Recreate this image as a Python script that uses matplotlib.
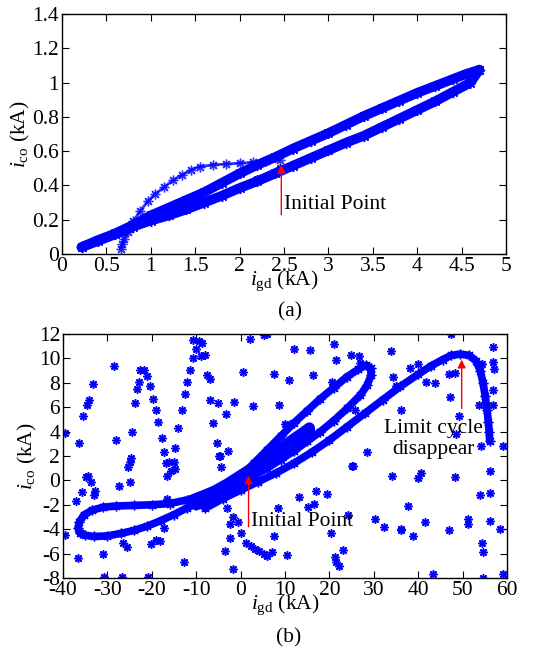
import matplotlib
matplotlib.use("Agg")
import matplotlib.pyplot as plt
from matplotlib.ticker import FuncFormatter

plt.rcParams['font.family'] = ['Liberation Serif', 'DejaVu Serif']
plt.rcParams['mathtext.fontset'] = 'custom'
plt.rcParams['mathtext.rm'] = 'Liberation Serif'
plt.rcParams['mathtext.it'] = 'Liberation Serif:italic'

# ---------------- (a) data ----------------
a_upper_x = [0.22, 0.4, 0.6, 0.8, 1.0, 1.2, 1.4, 1.6, 1.8, 2.0, 2.2, 2.4, 2.6, 2.8, 3.0, 3.2,
             3.4, 3.6, 3.8, 4.0, 4.2, 4.4, 4.55, 4.7]
a_upper_y = [0.04, 0.08, 0.12, 0.17, 0.225, 0.27, 0.315, 0.36, 0.415, 0.47, 0.52, 0.565, 0.615,
             0.66, 0.705, 0.755, 0.805, 0.85, 0.895, 0.94, 0.98, 1.02, 1.05, 1.075]
a_lower_x = [4.7, 4.6, 4.4, 4.2, 4.0, 3.8, 3.6, 3.4, 3.2, 3.0, 2.8, 2.6, 2.4, 2.2, 2.0, 1.8,
             1.6, 1.4, 1.2, 1.0, 0.8, 0.6, 0.4, 0.22]
a_lower_y = [1.075, 1.0, 0.945, 0.89, 0.84, 0.79, 0.74, 0.69, 0.65, 0.605, 0.56, 0.515, 0.47,
             0.425, 0.385, 0.34, 0.30, 0.26, 0.225, 0.195, 0.16, 0.115, 0.075, 0.04]
a_mid_x = [0.7, 1.0, 1.3, 1.6, 1.9, 2.2, 2.45]
a_mid_y = [0.13, 0.2, 0.26, 0.31, 0.37, 0.44, 0.5]
a_trans_x = [0.66, 0.68, 0.70, 0.74, 0.80, 0.88, 0.97, 1.05, 1.15, 1.25, 1.35, 1.45, 1.55,
             1.7, 1.85, 2.0, 2.15, 2.3, 2.45]
a_trans_y = [0.03, 0.06, 0.09, 0.13, 0.19, 0.25, 0.31, 0.35, 0.39, 0.43, 0.46, 0.49, 0.51,
             0.52, 0.525, 0.53, 0.535, 0.54, 0.55]

# ---------------- (b) data ----------------
b_loopA_x = [-4, -8, -12, -16, -20, -24, -28, -31, -33.5, -35.3, -36.3, -36.6, -36.2, -35, -33,
             -30, -27, -24, -21, -18, -15, -12, -9, -6, -3]
b_loopA_y = [-0.5, -1.1, -1.6, -1.9, -2.0, -2.05, -2.1, -2.2, -2.45, -2.85, -3.4, -3.9, -4.3,
             -4.5, -4.6, -4.55, -4.35, -4.1, -3.75, -3.3, -2.8, -2.25, -1.7, -1.15, -0.6]
b_loopC_x = [0, 3, 6, 9, 12, 15, 18, 21, 24, 26.5, 28.3, 29.3, 29.4, 28.5, 27, 24, 21, 18, 15,
             12, 9, 6, 3, 0]
b_loopC_y = [0.3, 1.4, 2.5, 3.6, 4.7, 5.7, 6.7, 7.6, 8.5, 9.1, 9.45, 9.2, 8.6, 7.8, 7.0, 5.9,
             4.9, 4.0, 3.2, 2.4, 1.7, 1.0, 0.4, -0.2]
b_loopB_x = [-10, -6, -3, 0, 3, 6, 9, 12, 14, 15.5, 15.6, 14, 12, 9, 6, 3, 0, -3, -6, -10]
b_loopB_y = [-1.5, -0.9, -0.3, 0.4, 1.1, 1.8, 2.6, 3.4, 3.9, 4.3, 3.9, 3.3, 2.8, 2.0, 1.3, 0.6,
             -0.1, -0.7, -1.3, -2.0]
b_escape_x = [-8, -4, 0, 4, 8, 12, 16, 20, 24, 28, 32, 36, 40, 43, 45.5, 47.5, 49.5, 51.5, 53,
              54, 54.6, 55.1, 55.5, 55.8, 56, 56.1]
b_escape_y = [-2.3, -1.5, -0.8, -0.1, 0.6, 1.4, 2.3, 3.3, 4.4, 5.5, 6.6, 7.7, 8.7, 9.4, 9.9,
              10.25, 10.35, 10.25, 9.8, 9.0, 8.0, 6.9, 5.8, 4.8, 4.0, 3.2]

b_scatter_x = [-39.6, -36.4, -35.4, -34.6, -34.1, -33.2, -28.6, -28.0, -24.4, -24.6, -23.7, -23.4,
               -22.9, -22.7, -21.7, -21.1, -20.4, -19.7, -19.1, -18.7, -17.8, -17.3, -14.7, -14.0,
               -13.2, -12.6, -12.1, -11.5, -10.7, -10.1, -10.7, -9.3, -8.6, -8.9, -8.1, -7.6,
               -6.8, -6.8, -6.2, -5.0, -3.2, -5.4, -4.6, -2.9, -1.4, 0.6, 2.7, 2.1, 5.2, 5.9,
               12.1, 15.7, 21.1, 24.8, 26.6, 21.6, 26.8, 7.5, 10.9, 16.4, 20.7, 8.6, 10.0, 11.2,
               25.7, 33.9, 34.3, 35.0, 36.1, 38.2, 39.9, 41.8, 43.9, 47.1, 47.5, 49.1, 46.9,
               48.2, 54.3, 28.5, 48.6, 53.8, 54.2, 40.7, 40.0, 48.4, 54.0, 37.6, 41.6, 36.2,
               38.8, 47.0, 51.2, 51.2, 54.3, 54.7, 43.3, 54.7, 34.1, 30.2, 32.4, 36.1,
               56.8, 56.8, 57.0, 56.8, 56.8, 56.2, 56.2, 56.2, 59.2, 58.5, 59.2,
               25.0, 17.1, 13.2, 15.2, 16.6, 19.5, 8.4, 7.6, 10.5, 20.4, 21.2, 21.6, 22.1, 23.1,
               24.1, 25.4,
               -39.6, -37.1, -36.7, -34.8, -34.4, -33.7, -32.7, -33.1, -35.7, -31.0, -30.7,
               -27.3, -24.9, -24.9, -25.3, -26.4, -25.5, -26.7, -20.9, -20.1, -19.1, -18.1,
               -17.3, -16.6, -16.9, -16.2, -16.6, -15.6, -14.8, -15.0, -12.8, -4.4, -4.9, -3.0,
               -1.7, -2.4, -2.3, -0.5, -3.4, -1.6, 0.2, 1.3, 2.3, 3.2, 4.1, 5.2, 5.9, 7.0]
b_scatter_y = [3.9, 3.1, 5.26, 6.2, 6.6, 7.9, 9.37, 3.3, 3.97, 1.8, 6.36, 7.5,
               8.1, 9.04, 9.04, 8.55, 7.7, 6.7, 5.8, 4.8, 3.5, 2.3, 2.66, 4.3,
               5.8, 7.04, 8.05, 9.04, 10.0, 10.8, 11.5, 11.4, 11.3, 10.2, 10.3, 8.6,
               8.3, 6.6, 4.7, 6.36, 5.4, 3.1, 2.0, 2.4, 6.4, 8.9, 6.1, 11.6, 11.9, 12.0,
               10.8, 10.7, 11.2, 10.3, 10.2, 9.9, 9.6, 8.7, 8.2, 8.6, 8.1, 6.2, 4.6, 4.6,
               5.8, 10.6, 8.5, 7.7, 5.8, 9.2, 9.5, 8.1, 8.0, 6.8, 12.0, 5.3, 8.7,
               8.8, 9.5, 2.3, 3.8, 6.2, 2.8, 0.6, 0.2, 0.3, -1.2, -2.1, -3.4, -4.0,
               -4.6, -4.1, -3.2, -3.6, -5.1, -5.9, -7.7, -8.0, 0.33, -3.2, -3.8, -4.05,
               10.9, 9.7, 9.1, 7.4, 6.2, 0.76, -1.0, -3.3, 2.8, -4.0, -7.7,
               1.17, -0.86, -1.4, -2.2, -1.9, -1.14, -2.25, -4.6, -6.1, -4.3, -6.25, -6.7, -7.0,
               -5.7, -2.8, 1.2,
               -4.47, -1.7, -6.4, 0.25, 0.33, -0.14, -0.86, -1.2, -0.97, -6.0, -7.9,
               -0.5, -0.1, 1.5, 1.1, -5.1, -5.5, -7.9, -7.9, -5.2, -4.9, -5.0,
               -3.9, -1.5, 1.44, 1.5, 0.33, 0.8, 0.9, 1.5, -6.7, 1.08, 2.0, -2.25,
               -3.0, -3.6, -4.7, -3.4, -5.8, -7.25, -4.3, -5.1, -5.4, -5.6, -5.8, -6.0, -6.2, -5.9]

a_xticks = [0, 0.5, 1, 1.5, 2, 2.5, 3, 3.5, 4, 4.5, 5]
a_yticks = [0, 0.2, 0.4, 0.6, 0.8, 1, 1.2, 1.4]
b_xticks = [-40, -30, -20, -10, 0, 10, 20, 30, 40, 50, 60]
b_yticks = [-8, -6, -4, -2, 0, 2, 4, 6, 8, 10, 12]

BLUE = '#0000ff'
STAR = (8, 2, 0)
FS = 15.5

fig = plt.figure(figsize=(5.52, 6.5), dpi=100)
ax1 = fig.add_axes([0.1123, 0.6092, 0.8043, 0.3692])
ax2 = fig.add_axes([0.1141, 0.1108, 0.8043, 0.3754])

fmt = FuncFormatter(lambda v, p: '%g' % v)


def style(ax, xt, yt):
    ax.set_xlim(xt[0], xt[-1])
    ax.set_ylim(yt[0], yt[-1])
    ax.set_xticks(xt)
    ax.set_yticks(yt)
    ax.xaxis.set_major_formatter(fmt)
    ax.yaxis.set_major_formatter(fmt)
    ax.tick_params(direction='in', top=True, right=True, length=5, width=0.8,
                   labelsize=FS, pad=2)
    for s in ax.spines.values():
        s.set_linewidth(1.0)
    ax.set_xlabel(r'$i_{\rm gd}$ (kA)', fontsize=FS, labelpad=-5)
    ax.set_ylabel(r'$i_{\rm co}$ (kA)', fontsize=FS, labelpad=0)


def band(ax, x, y, lw=4.5, ms=7):
    ax.plot(x, y, color=BLUE, lw=lw, solid_capstyle='round', solid_joinstyle='round',
            marker=STAR, ms=ms, mew=1.0, mec=BLUE, zorder=2)


# (a)
band(ax1, a_upper_x, a_upper_y, lw=7, ms=8)
band(ax1, a_lower_x, a_lower_y, lw=7, ms=8)
band(ax1, a_mid_x, a_mid_y, lw=3, ms=6)
ax1.plot(a_trans_x, a_trans_y, color=BLUE, lw=2.0, marker=STAR, ms=7, mew=1.0, alpha=0.8)
ax1.annotate('', xy=(2.47, 0.52), xytext=(2.47, 0.23),
             arrowprops=dict(arrowstyle='-|>', color='red', lw=1.0, mutation_scale=12,
                             shrinkA=0, shrinkB=0), zorder=5)
ax1.text(2.5, 0.29, 'Initial Point', fontsize=FS, va='center', ha='left')
style(ax1, a_xticks, a_yticks)

# (b)
band(ax2, b_loopA_x, b_loopA_y, lw=5.5)
band(ax2, b_loopC_x, b_loopC_y, lw=5.5)
band(ax2, b_loopB_x, b_loopB_y, lw=8)
band(ax2, b_escape_x, b_escape_y, lw=5.5)
ax2.plot(b_scatter_x, b_scatter_y, ls='none', marker=STAR, ms=6, mew=1.1, color=BLUE)
ax2.annotate('', xy=(1.8, 0.4), xytext=(1.8, -3.8),
             arrowprops=dict(arrowstyle='-|>', color='red', lw=1.0, mutation_scale=12,
                             shrinkA=0, shrinkB=0), zorder=5)
ax2.text(2.3, -3.4, 'Initial Point', fontsize=FS, va='center', ha='left')
ax2.annotate('', xy=(49.8, 9.9), xytext=(49.8, 5.9),
             arrowprops=dict(arrowstyle='-|>', color='red', lw=1.0, mutation_scale=12,
                             shrinkA=0, shrinkB=0), zorder=5)
ax2.text(43.5, 3.4, 'Limit cycle\ndisappear', fontsize=FS, va='center', ha='center',
         linespacing=1.1)
style(ax2, b_xticks, b_yticks)

fig.text(0.525, 0.52, '(a)', fontsize=FS, ha='center', va='center')
fig.text(0.522, 0.018, '(b)', fontsize=FS, ha='center', va='center')

fig.savefig('out.png', dpi=100)
